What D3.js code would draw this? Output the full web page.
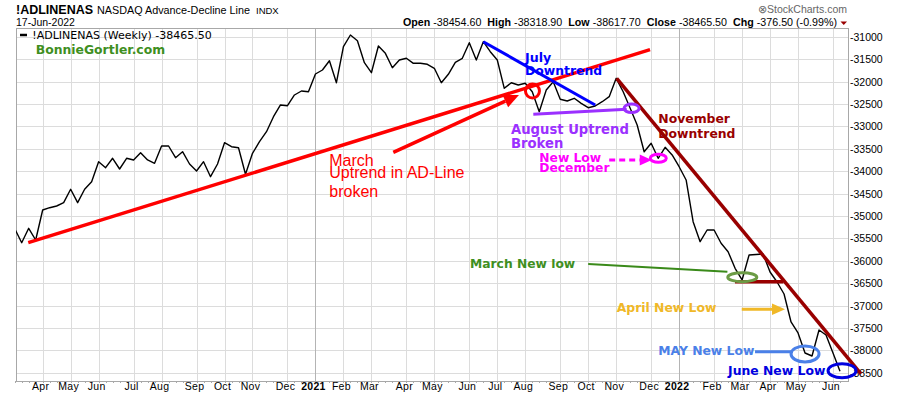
<!DOCTYPE html>
<html>
<head>
<meta charset="utf-8">
<script src="https://cdn.jsdelivr.net/npm/d3@7"></script>
<style>
  body { margin: 0; background: #fff; }
  svg { display: block; font-family: "Liberation Sans", Arial, sans-serif; }
</style>
</head>
<body>
<div id="chart"></div>
<script>
// DATA ----------------------------------------------
// weekly closes of !ADLINENAS, first bar is the week of Mon 9-Mar-2020
const firstWeek = "2020-03-09";
const adClose = [
  -35285, -35598, -35277, -35538, -34868, -34817, -34779, -34705, -34406, -34705,
  -34406, -34236, -33790, -33924, -33714, -33953, -33714, -33752, -33589, -33752,
  -33826, -33440, -33440, -33701, -33567, -33841, -33998, -33790, -34125, -33841,
  -33366, -33455, -33478, -34071, -33603, -33344, -33120, -32786, -32524, -32540,
  -32301, -32212, -32228, -31833, -31743, -31536, -32027, -31223, -30962, -31089,
  -31580, -31804, -31208, -31371, -31692, -31520, -31482, -31594, -31594, -31616,
  -31705, -32027, -31839, -31571, -31482, -31134, -31520, -31112, -31335, -31520,
  -32152, -32027, -32078, -32040, -32228, -32674, -32190, -32004, -32397, -32435,
  -32375, -32487, -32585, -32547, -32451, -32339, -31929, -32228, -32598, -32971,
  -33567, -33379, -33714, -33469, -33640, -33902, -34198, -35129, -35576, -35315,
  -35315, -35611, -35799, -36169, -36430, -35873, -35861, -35850, -36252, -36475,
  -36743, -37368, -37613, -38060, -38127, -37546, -37658, -38060, -38465.5
];
const yTicks = d3.range(-31000, -38501, -500);

// header quote
const quoteLabels = ["Open", "High", "Low", "Close", "Chg"];
const quoteValues = ["-38454.60", "-38318.90", "-38617.70", "-38465.50", "-376.50 (-0.99%)"];

// drawn trendlines, in (week index, value)
const trendLines = [
  {w1: 1.94,  v1: -35598, w2: 90.84, v2: -31288, color: "#f00",    width: 3.5},  // March uptrend
  {w1: 67.0,  v1: -31112, w2: 83.0,  v2: -32524, color: "#0000ff", width: 3},    // July downtrend
  {w1: 74.15, v1: -32732, w2: 87.5,  v2: -32620, color: "#9b30ff", width: 3},    // August uptrend
  {w1: 86.07, v1: -31929, w2: 121.0, v2: -38528, color: "#990000", width: 3.5},  // November downtrend
  {w1: 102.99,v1: -36468, w2: 109.9, v2: -36468, color: "#990000", width: 3.5},  // March low shelf
  {w1: 82.0,  v1: -36073, w2: 101.9, v2: -36245, color: "#3a8a1a", width: 2},    // March new low pointer
  {w1: 105.85,v1: -38031, w2: 111.28,v2: -38031, color: "#4a80e8", width: 3}     // MAY pointer
];
const arrows = [
  {w1: 54.13, v1: -33580, w2: 72.1,  v2: -32301, color: "#f00",    width: 3.5, head: 15, dash: null},
  {w1: 85.0,  v1: -33752, w2: 91.08, v2: -33752, color: "#ff00ff", width: 3,   head: 12, dash: "6,4"},
  {w1: 103.95,v1: -37084, w2: 110.14,v2: -37084, color: "#f0b828", width: 3,   head: 13, dash: null}
];
const rings = [
  {w: 74.03,  v: -32212, rx: 7,    ry: 7,   color: "#f00"},
  {w: 88.2,   v: -32598, rx: 7.5,  ry: 4.3, color: "#9b30ff"},
  {w: 92.02,  v: -33714, rx: 8,    ry: 4,   color: "#ff00ff"},
  {w: 104.03, v: -36368, rx: 14.5, ry: 4.5, color: "#6b9b45"},
  {w: 113.0,  v: -38082, rx: 14,   ry: 8,   color: "#4a80e8"},
  {w: 118.29, v: -38455, rx: 14,   ry: 7,   color: "#0000e0"}
];
const notes = [
  {w: 44.98, v: -33886, text: "March", color: "#f00", bold: false, size: 16},
  {w: 44.98, v: -34161, text: "Uptrend in AD-Line", color: "#f00", bold: false, size: 16},
  {w: 44.98, v: -34571, text: "broken", color: "#f00", bold: false, size: 16},
  {w: 72.96, v: -31558, text: "July", color: "#0000ff", bold: true, size: 12.6},
  {w: 72.96, v: -31848, text: "Downtrend", color: "#0000ff", bold: true, size: 12.4},
  {w: 70.96, v: -33178, text: "August Uptrend", color: "#9b30ff", bold: true, size: 13.2},
  {w: 70.96, v: -33495, text: "Broken", color: "#9b30ff", bold: true, size: 13.2},
  {w: 75.0,  v: -33790, text: "New Low", color: "#ff00ff", bold: true, size: 12.3},
  {w: 75.0,  v: -34013, text: "December", color: "#ff00ff", bold: true, size: 12.3},
  {w: 92.02, v: -32933, text: "November", color: "#990000", bold: true, size: 12.4},
  {w: 92.02, v: -33268, text: "Downtrend", color: "#990000", bold: true, size: 12.4},
  {w: 65.1,  v: -36163, text: "March New low", color: "#3f8f1f", bold: true, size: 12.3},
  {w: 86.07, v: -37138, text: "April New Low", color: "#f0b828", bold: true, size: 12.4},
  {w: 92.02, v: -38104, text: "MAY New Low", color: "#4a80e8", bold: true, size: 12.35},
  {w: 101.99,v: -38562, text: "June New Low", color: "#0000e0", bold: true, size: 12.4}
];

// LAYOUT --------------------------------------------
var W = 900, H = 396;
var plot = {left: 16, right: 848, top: 28, bottom: 381};

var svg = d3.select("#chart").append("svg")
    .attr("width", W)
    .attr("height", H);

var week0 = d3.timeParse("%Y-%m-%d")(firstWeek);
var weeks = adClose.map((d, i) => d3.timeWeek.offset(week0, i));

var x = d3.scaleTime()
    .domain([weeks[0], weeks[weeks.length - 1]])
    .range([14.7, 840]);
var y = d3.scaleLinear()
    .domain([-38500, -31000])
    .range([372.7, 36.7]);

// fractional week index -> pixel
const wx = (w) => x(new Date(+week0 + w * 7 * 864e5));
const crisp = (v) => Math.round(v) + 0.5;

// GRID ----------------------------------------------
var grid = svg.append("g");
grid.selectAll("line.h")
    .data(yTicks)
    .join("line")
    .attr("class", "h")
    .attr("x1", plot.left).attr("x2", plot.right)
    .attr("y1", d => crisp(y(d))).attr("y2", d => crisp(y(d)))
    .attr("stroke", "#dcdcdc");

// month lines sit on the first week whose Monday falls in the month
var monthWeeks = weeks.filter(d => d.getDate() <= 7);
grid.selectAll("line.v")
    .data(monthWeeks)
    .join("line")
    .attr("class", "v")
    .attr("x1", d => crisp(x(d))).attr("x2", d => crisp(x(d)))
    .attr("y1", plot.top).attr("y2", plot.bottom)
    .attr("stroke", d => d.getMonth() === 0 ? "#b4b4b4" : "#dcdcdc");

// little weekly ticks under the plot
grid.selectAll("line.t")
    .data(weeks)
    .join("line")
    .attr("class", "t")
    .attr("x1", d => crisp(x(d))).attr("x2", d => crisp(x(d)))
    .attr("y1", plot.bottom).attr("y2", plot.bottom + 2)
    .attr("stroke", "#aaa");

svg.append("rect")
    .attr("x", plot.left + 0.5).attr("y", plot.top + 0.5)
    .attr("width", plot.right - plot.left).attr("height", plot.bottom - plot.top)
    .attr("fill", "none")
    .attr("stroke", "#a8a8a8");

// AXES LABELS ---------------------------------------
svg.append("g").selectAll("text")
    .data(yTicks)
    .join("text")
    .attr("x", plot.right + 2)
    .attr("y", d => y(d) + 4)
    .attr("font-size", "10.5px")
    .text(d => d);

svg.append("g").selectAll("text")
    .data(monthWeeks)
    .join("text")
    .attr("x", d => x(d) - 2)
    .attr("y", 389.5)
    .attr("text-anchor", "middle")
    .attr("font-size", "10.5px")
    .attr("font-weight", d => d.getMonth() === 0 ? "bold" : null)
    .attr("letter-spacing", "0.3px")
    .text(d => d.getMonth() === 0 ? d3.timeFormat("%Y")(d) : d3.timeFormat("%b")(d));

// PRICE LINE ----------------------------------------
svg.append("clipPath").attr("id", "clip")
    .append("rect")
    .attr("x", plot.left).attr("y", plot.top)
    .attr("width", plot.right - plot.left).attr("height", plot.bottom - plot.top);

var line = d3.line()
    .x((d, i) => x(weeks[i]))
    .y(d => y(d));

svg.append("path")
    .datum(adClose)
    .attr("clip-path", "url(#clip)")
    .attr("d", line)
    .attr("fill", "none")
    .attr("stroke", "#000")
    .attr("stroke-width", 1.4)
    .attr("stroke-linejoin", "round");

// ANNOTATIONS ---------------------------------------
var ann = svg.append("g");

ann.selectAll("line.trend")
    .data(trendLines)
    .join("line")
    .attr("class", "trend")
    .attr("x1", d => wx(d.w1)).attr("y1", d => y(d.v1))
    .attr("x2", d => wx(d.w2)).attr("y2", d => y(d.v2))
    .attr("stroke", d => d.color)
    .attr("stroke-width", d => d.width);

arrows.forEach((a) => {
    let x1 = wx(a.w1), y1 = y(a.v1), x2 = wx(a.w2), y2 = y(a.v2);
    let ang = Math.atan2(y2 - y1, x2 - x1);
    let bx = x2 - a.head * Math.cos(ang), by = y2 - a.head * Math.sin(ang);
    let hw = a.head * 0.45;
    ann.append("line")
        .attr("x1", x1).attr("y1", y1)
        .attr("x2", bx).attr("y2", by)
        .attr("stroke", a.color)
        .attr("stroke-width", a.width)
        .attr("stroke-dasharray", a.dash);
    ann.append("path")
        .attr("d", `M${x2},${y2} L${bx - hw * Math.sin(ang)},${by + hw * Math.cos(ang)} L${bx + hw * Math.sin(ang)},${by - hw * Math.cos(ang)} Z`)
        .attr("fill", a.color);
});

ann.selectAll("ellipse")
    .data(rings)
    .join("ellipse")
    .attr("cx", d => wx(d.w)).attr("cy", d => y(d.v))
    .attr("rx", d => d.rx).attr("ry", d => d.ry)
    .attr("fill", "none")
    .attr("stroke", d => d.color)
    .attr("stroke-width", 3);

ann.selectAll("text")
    .data(notes)
    .join("text")
    .attr("x", d => wx(d.w))
    .attr("y", d => y(d.v))
    .attr("fill", d => d.color)
    .attr("font-family", d => d.bold ? "'DejaVu Sans', Verdana, sans-serif" : null)
    .attr("font-weight", d => d.bold ? "bold" : null)
    .attr("font-size", d => d.size + "px")
    .text(d => d.text);

// HEADER --------------------------------------------
var head = svg.append("g");
head.append("text")
    .attr("x", 16).attr("y", 13.5)
    .attr("font-size", "12.5px").attr("font-weight", "bold")
    .text("!ADLINENAS");
head.append("text")
    .attr("x", 97).attr("y", 13.5)
    .attr("font-size", "10.8px")
    .text("NASDAQ Advance-Decline Line");
head.append("text")
    .attr("x", 256).attr("y", 13.5)
    .attr("font-size", "9.5px")
    .text("INDX");
head.append("text")
    .attr("x", 16).attr("y", 25.5)
    .attr("font-size", "10.5px")
    .text("17-Jun-2022");
head.append("text")
    .attr("x", 847).attr("y", 12.5)
    .attr("text-anchor", "end")
    .attr("font-size", "10.5px")
    .attr("fill", "#666")
    .text("\u2297StockCharts.com");

var quote = head.append("text")
    .attr("x", 837).attr("y", 25.5)
    .attr("text-anchor", "end")
    .attr("font-size", "10.7px");
quoteLabels.forEach((lab, i) => {
    quote.append("tspan").attr("dx", i ? 6 : 0).attr("font-weight", "bold").text(lab);
    quote.append("tspan").attr("dx", 3).text(quoteValues[i]);
});
head.append("path")
    .attr("d", "M840.5,21.5 L847,21.5 L843.75,25 Z")
    .attr("fill", "#990000");

// legend inside the plot
head.append("line")
    .attr("x1", 20).attr("x2", 27)
    .attr("y1", 35).attr("y2", 35)
    .attr("stroke", "#000").attr("stroke-width", 2.5);
head.append("text")
    .attr("x", 32.3).attr("y", 38.5)
    .attr("font-family", "'DejaVu Sans', Verdana, sans-serif")
    .attr("font-size", "11px")
    .text("!ADLINENAS (Weekly) " + adClose[adClose.length - 1].toFixed(2));
head.append("text")
    .attr("x", 35.7).attr("y", 54.3)
    .attr("font-family", "'DejaVu Sans', Verdana, sans-serif")
    .attr("font-weight", "bold")
    .attr("font-size", "12.4px")
    .attr("fill", "#3f8f1f")
    .text("BonnieGortler.com");
</script>
</body>
</html>
